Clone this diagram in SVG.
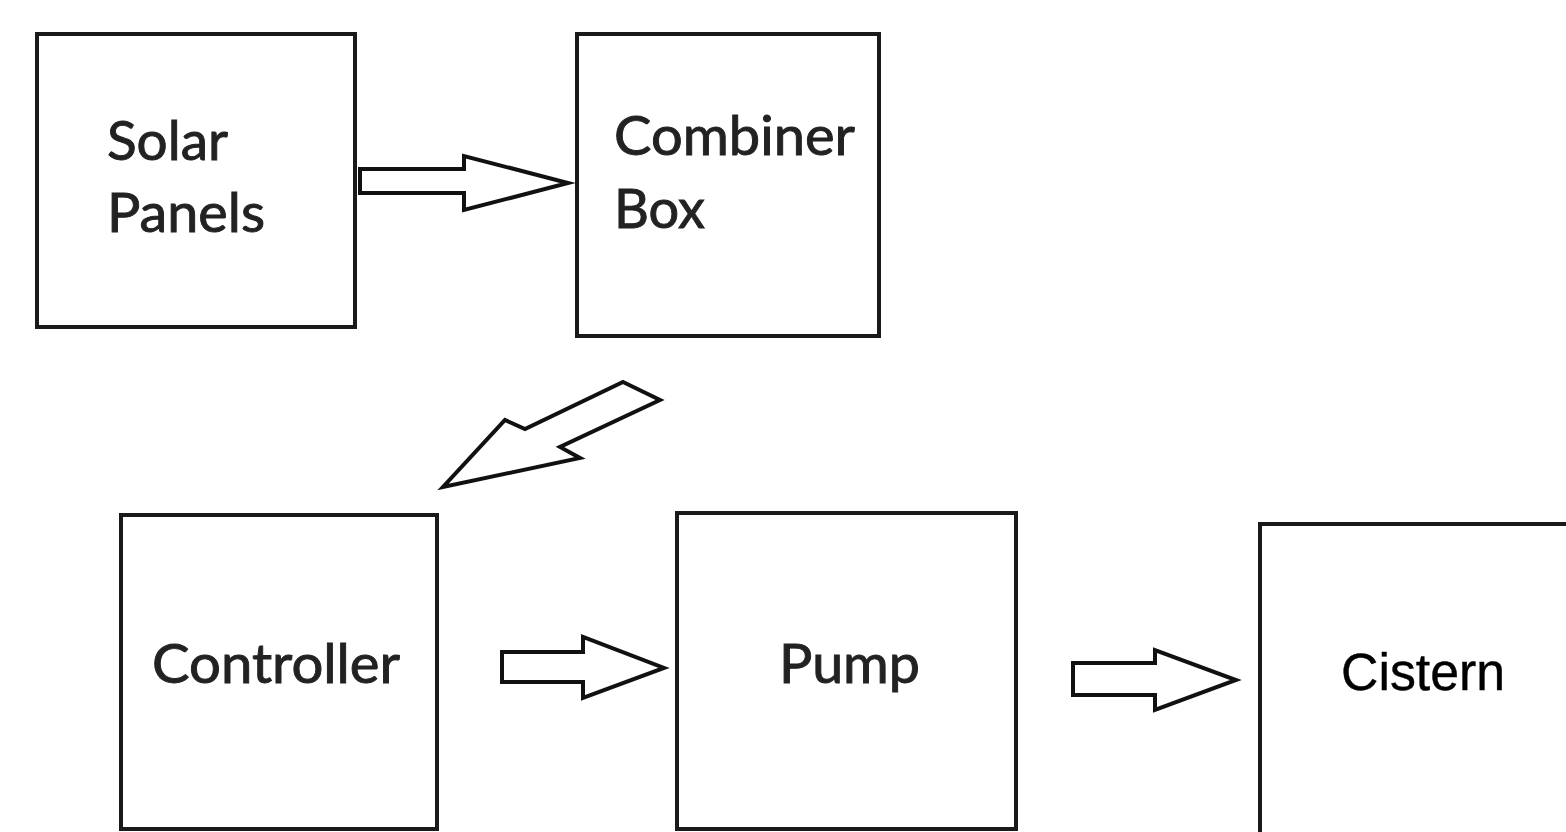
<svg xmlns="http://www.w3.org/2000/svg" width="1566" height="832" viewBox="0 0 1566 832">
<style>
.box{fill:#fff;stroke:#1a1a1a;stroke-width:4}
.arr{fill:#fff;stroke:#111;stroke-width:4;stroke-linejoin:miter}
.lbl{font-family:Lato,"Open Sans",sans-serif;font-size:54px;fill:#222;stroke:#222;stroke-width:0.9}
.lbl2{font-family:"Liberation Sans",Arial,sans-serif;font-size:51px;fill:#000;stroke:#000;stroke-width:0.4}
</style>
<rect width="1566" height="832" fill="#fff"/>
<g id="solar-panels">
<rect class="box" x="37" y="34" width="318" height="293"/>
<text class="lbl" x="107" y="160" textLength="121" lengthAdjust="spacingAndGlyphs">Solar</text>
<text class="lbl" x="107" y="232" textLength="158" lengthAdjust="spacingAndGlyphs">Panels</text>
</g>
<g id="combiner-box">
<rect class="box" x="577" y="34" width="302" height="302"/>
<text class="lbl" x="614" y="155" textLength="241" lengthAdjust="spacingAndGlyphs">Combiner</text>
<text class="lbl" x="614" y="228" textLength="91" lengthAdjust="spacingAndGlyphs">Box</text>
</g>
<g id="controller">
<rect class="box" x="121" y="515" width="316" height="314"/>
<text class="lbl" x="152" y="683" textLength="248" lengthAdjust="spacingAndGlyphs">Controller</text>
</g>
<g id="pump">
<rect class="box" x="677" y="513" width="339" height="316"/>
<text class="lbl" x="779" y="683" textLength="141" lengthAdjust="spacingAndGlyphs">Pump</text>
</g>
<g id="cistern">
<rect class="box" x="1260" y="524" width="330" height="330"/>
<text class="lbl2" x="1341" y="690" textLength="164" lengthAdjust="spacingAndGlyphs">Cistern</text>
</g>
<g id="connectors">
<polygon class="arr" points="360,169 464,169 464,156 568,183 464,210 464,193 360,193"/>
<polygon class="arr" points="623,382 660,400 560,447 580,458 443,487 505,420 525,429"/>
<polygon class="arr" points="502,652 583,652 583,637 664,668 583,698 583,682 502,682"/>
<polygon class="arr" points="1073,663 1155,663 1155,650 1236,680 1155,710 1155,695 1073,695"/>
</g>
</svg>
